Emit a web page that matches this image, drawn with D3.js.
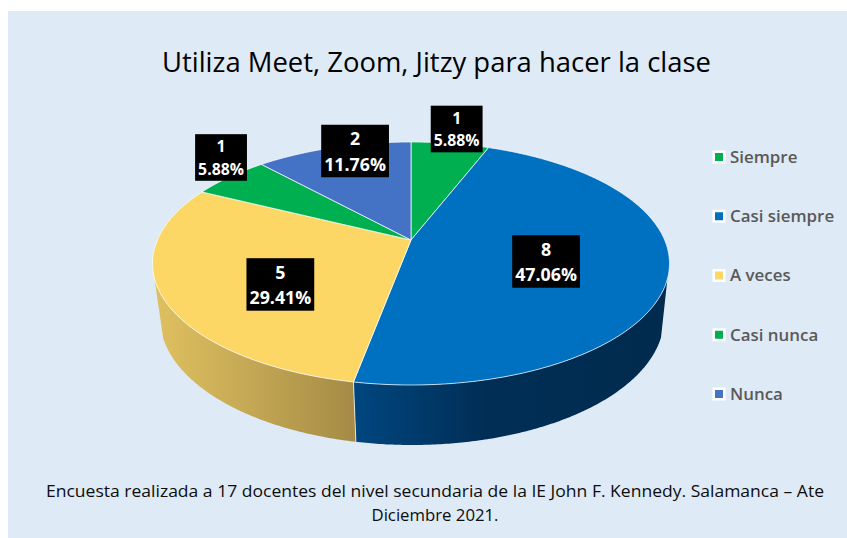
<!DOCTYPE html>
<html lang="es">
<head>
<meta charset="utf-8">
<script src="https://d3js.org/d3.v7.min.js"></script>
<style>
html,body{margin:0;padding:0;background:#fff}
svg{display:block}
text{font-family:"Open Sans",sans-serif}
</style>
</head>
<body>
<svg id="c" width="847" height="538"></svg>
<script>
const categories = ["Siempre", "Casi siempre", "A veces", "Casi nunca", "Nunca"];
const values = [1, 8, 5, 1, 2];
const colors = ["#00B050", "#0070C0", "#FCD766", "#00B050", "#4472C4"];
const titleText = "Utiliza Meet, Zoom, Jitzy para hacer la clase";
const footerLines = ["Encuesta realizada a 17 docentes del nivel secundaria de la IE John F. Kennedy. Salamanca – Ate", "Diciembre 2021."];

// layout only
const labelNudge = [[6.5, -14.4], [-122.5, -12.3], [117.8, -12.6], [-8.7, -19.4], [21.7, 3.4]];
const labelFont = [15.8, 17.8, 17.8, 15.8, 17.8];
const footerWidths = [778, 127];
const topFace = {cx: 411, cy: 263.5, rx: 258.5, ry: 121.5};
const lowFace = {cx: 412, cy: 318, rx: 252, ry: 127};
const apexY = 240;

const svg = d3.select("#c");
svg.append("rect").attr("x", 8).attr("y", 11).attr("width", 839).attr("height", 527).attr("fill", "#DEEAF6");

const total = d3.sum(values);
const slices = d3.pie().sort(null)(values);
const k = (apexY - topFace.cy) / topFace.ry;

// homography of the unit disc onto the ellipse, keeping the rim and moving the centre to the apex
function unit(theta, r = 1) {
  const u = r * Math.sin(theta), v = -r * Math.cos(theta), d = 1 + k * v;
  return {p: u * Math.sqrt(1 - k * k) / d, q: (v + k) / d};
}
const place = (f, o) => [f.cx + f.rx * o.p, f.cy + f.ry * o.q];
const angles = (a, b) => d3.range(a, b, Math.PI / 360).concat([b]);
const line = d3.line();

const defs = svg.append("defs");
function grad(id, x1, x2, stops) {
  const g = defs.append("linearGradient").attr("id", id).attr("gradientUnits", "userSpaceOnUse")
    .attr("x1", x1).attr("x2", x2).attr("y1", 0).attr("y2", 0);
  stops.forEach(s => g.append("stop").attr("offset", s[0]).attr("stop-color", s[1]));
}
grad("wall1", 355, 668, [[0, "#00467F"], [0.42, "#002E55"], [1, "#002B4E"]]);
grad("wall2", 155, 356, [[0, "#DFC060"], [0.45, "#C6A955"], [1, "#A48A45"]]);

// visible side wall
const wallTopLimit = 0.12, wallLowLimit = 0.15;
const walls = slices.map((s, i) => ({s, i})).filter(d => d.i === 1 || d.i === 2);
svg.append("g").selectAll("path").data(walls).join("path")
  .attr("d", d => {
    const ang = angles(d.s.startAngle, d.s.endAngle).map(t => unit(t));
    const top = ang.filter(o => o.q >= wallTopLimit).map(o => place(topFace, o));
    const low = ang.filter(o => o.q >= wallLowLimit).map(o => place(lowFace, o)).reverse();
    return line(top.concat(low)) + "Z";
  })
  .attr("fill", d => `url(#wall${d.i})`);

// seam between the two wall segments
const seam = unit(slices[1].endAngle);
svg.append("line")
  .attr("x1", place(topFace, seam)[0]).attr("y1", place(topFace, seam)[1])
  .attr("x2", place(lowFace, seam)[0]).attr("y2", place(lowFace, seam)[1])
  .attr("stroke", "#fff").attr("stroke-opacity", 0.75).attr("stroke-width", 1);

// top face
const apex = place(topFace, {p: 0, q: k});
svg.append("g").selectAll("path").data(slices).join("path")
  .attr("d", s => line([apex].concat(angles(s.startAngle, s.endAngle).map(t => place(topFace, unit(t))))) + "Z")
  .attr("fill", (s, i) => colors[i])
  .attr("stroke", "#fff").attr("stroke-opacity", 0.72).attr("stroke-width", 1).attr("stroke-linejoin", "round");

// data labels
const pct = d3.format(".2%");
const lab = svg.append("g").selectAll("g").data(slices).join("g")
  .attr("transform", (s, i) => {
    const e = place(topFace, unit((s.startAngle + s.endAngle) / 2));
    return `translate(${e[0] + labelNudge[i][0]},${e[1] + labelNudge[i][1]})`;
  });
lab.each(function (s, i) {
  const g = d3.select(this), fs = labelFont[i];
  const t = g.append("text").attr("text-anchor", "middle").attr("fill", "#fff")
    .attr("font-weight", 700).attr("font-size", fs);
  t.append("tspan").attr("x", 0).attr("y", -0.32 * fs).text(s.value);
  t.append("tspan").attr("x", 0).attr("y", 1.1 * fs).text(pct(s.value / total));
  const w = t.node().getBBox().width + 6, h = 2.95 * fs;
  g.insert("rect", "text").attr("x", -w / 2).attr("y", -h / 2).attr("width", w).attr("height", h).attr("fill", "#000");
});

// legend
const ly = d3.scalePoint().domain(categories).range([157, 394]);
const leg = svg.append("g").selectAll("g").data(categories).join("g")
  .attr("transform", d => `translate(712.5,${ly(d)})`);
leg.append("rect").attr("x", 0).attr("y", -6.5).attr("width", 13).attr("height", 13).attr("fill", "#fff");
leg.append("rect").attr("x", 2.5).attr("y", -4).attr("width", 8).attr("height", 8).attr("fill", (d, i) => colors[i]);
leg.append("text").attr("x", 17.5).attr("y", 5.8).attr("font-size", 16.9).attr("font-weight", 600)
  .attr("fill", "#595959").text(d => d);

// title and note
svg.append("text").attr("x", 436.5).attr("y", 71.5).attr("text-anchor", "middle").attr("font-size", 26.5)
  .attr("fill", "#000").attr("textLength", 549).attr("lengthAdjust", "spacingAndGlyphs").text(titleText);
const fy = d3.scalePoint().domain(footerLines).range([497, 520.5]);
svg.append("g").selectAll("text").data(footerLines).join("text")
  .attr("x", 435).attr("y", d => fy(d)).attr("text-anchor", "middle").attr("font-size", 16.6)
  .attr("fill", "#0d0d0d").attr("textLength", (d, i) => footerWidths[i]).attr("lengthAdjust", "spacingAndGlyphs").text(d => d);
</script>
</body>
</html>
